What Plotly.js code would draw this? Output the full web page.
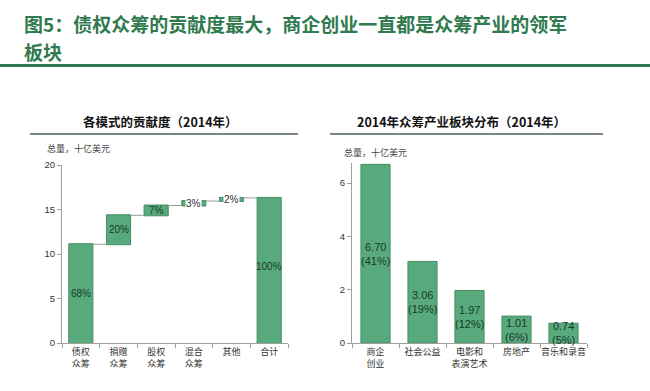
<!DOCTYPE html>
<html><head><meta charset="utf-8">
<script src="https://cdn.plot.ly/plotly-3.0.1.min.js"></script>
<style>html,body{margin:0;padding:0;background:#fff}#c{width:650px;height:391px}</style>
</head><body><div id="c"></div>
<script>
// Left chart: contribution by model (2014), billions USD
const modeCats = ['债权<br>众筹','捐赠<br>众筹','股权<br>众筹','混合<br>众筹','其他','合计'];
const modeValues = [11.1, 3.25, 1.1, 0.5, 0.35];
const modeLabels = ['68%','20%','7%','3%','2%','100%'];
// Right chart: sector distribution (2014), billions USD
const sectorCats = ['商企<br>创业','社会公益','电影和<br>表演艺术','房地产','音乐和录音'];
const sectorValues = [6.70, 3.06, 1.97, 1.01, 0.74];
const sectorShares = ['41%','19%','12%','6%','5%'];

const green = '#58aa7d', greenLine = '#438e63';
const cjk = '"Noto Sans CJK SC", sans-serif';
const lat = '"Liberation Sans", Arial, sans-serif';

const total = modeValues.reduce((a,b)=>a+b,0);
const wfY = modeValues.concat([total]);
const measures = modeValues.map(()=> 'relative').concat(['total']);

const traces = [
  {type:'waterfall', x: modeCats, y: wfY, measure: measures, xaxis:'x', yaxis:'y',
   increasing:{marker:{color:green, line:{color:greenLine, width:1}}},
   totals:{marker:{color:green, line:{color:greenLine, width:1}}},
   decreasing:{marker:{color:green}},
   connector:{mode:'between', line:{color:'#9a9a9a', width:1}},
   text: modeCats.map(()=> ''), textposition:'none', hoverinfo:'none', showlegend:false},
  {type:'bar', x: sectorCats, y: sectorValues, xaxis:'x2', yaxis:'y2',
   marker:{color:green, line:{color:greenLine, width:1}}, width:0.62,
   hoverinfo:'none', showlegend:false}
];

const annotations = [];
let cum = 0;
modeValues.forEach((v,i)=>{
  const mid = cum + v/2; cum += v;
  const small = v < 0.8;
  annotations.push({xref:'x', yref:'y', x: modeCats[i], y: mid, text: modeLabels[i], showarrow:false,
    font:{family:lat, size:10, color: small ? '#333' : '#173a27'},
    bgcolor: small ? '#ffffff' : 'rgba(0,0,0,0)', borderpad: 0});
});
annotations.push({xref:'x', yref:'y', x: modeCats[5], y: total*0.5+0.5, text: modeLabels[5], showarrow:false,
  font:{family:lat, size:10, color:'#173a27'}});
sectorValues.forEach((v,i)=>{
  annotations.push({xref:'x2', yref:'y2', x: sectorCats[i], y: v/2, text: v.toFixed(2)+'<br>('+sectorShares[i]+')',
    showarrow:false, font:{family:lat, size:11, color:'#173a27'}});
});
annotations.push(
  {xref:'paper', yref:'paper', x:22/650, y:1-23.5/391, xanchor:'left', yanchor:'middle', showarrow:false,
   text:'<b>图5：债权众筹的贡献度最大，商企创业一直都是众筹产业的领军</b>',
   font:{family:cjk, size:19, color:'#2f7a4e'}},
  {xref:'paper', yref:'paper', x:22/650, y:1-51.5/391, xanchor:'left', yanchor:'middle', showarrow:false,
   text:'<b>板块</b>', font:{family:cjk, size:19, color:'#2f7a4e'}},
  {xref:'paper', yref:'paper', x:160/650, y:1-121/391, xanchor:'center', yanchor:'middle', showarrow:false,
   text:'<b>各模式的贡献度（2014年）</b>', font:{family:cjk, size:12.5, color:'#111'}},
  {xref:'paper', yref:'paper', x:461/650, y:1-121/391, xanchor:'center', yanchor:'middle', showarrow:false,
   text:'<b>2014年众筹产业板块分布（2014年）</b>', font:{family:cjk, size:12.5, color:'#111'}},
  {xref:'paper', yref:'paper', x:45/650, y:1-148/391, xanchor:'left', yanchor:'middle', showarrow:false,
   text:'总量，十亿美元', font:{family:cjk, size:9, color:'#444'}},
  {xref:'paper', yref:'paper', x:342/650, y:1-153/391, xanchor:'left', yanchor:'middle', showarrow:false,
   text:'总量，十亿美元', font:{family:cjk, size:9, color:'#444'}}
);

const shapes = [
  {type:'line', xref:'paper', yref:'paper', x0:0, x1:1, y0:1-65.5/391, y1:1-65.5/391, line:{color:'#2f7a4e', width:3}},
  {type:'line', xref:'paper', yref:'paper', x0:30/650, x1:298/650, y0:1-134/391, y1:1-134/391, line:{color:'#4d5f5a', width:1.5}},
  {type:'line', xref:'paper', yref:'paper', x0:330/650, x1:603/650, y0:1-134/391, y1:1-134/391, line:{color:'#4d5f5a', width:1.5}}
];

const axCommon = {showline:true, linecolor:'#a0a0a0', linewidth:1, ticks:'outside', ticklen:4, tickcolor:'#a0a0a0',
  showgrid:false, zeroline:false, fixedrange:true};
const layout = {
  width:650, height:391, margin:{l:0,r:0,t:0,b:0}, paper_bgcolor:'#fff', plot_bgcolor:'#fff',
  showlegend:false, waterfallgap:0.36,
  xaxis: Object.assign({}, axCommon, {domain:[62/650, 288/650], anchor:'y', type:'category', tickson:'boundaries',
    tickangle:0, tickfont:{family:cjk, size:9, color:'#333'}}),
  yaxis: Object.assign({}, axCommon, {domain:[1-343/391, 1-165/391], anchor:'x', range:[0,20], dtick:5,
    tickfont:{family:lat, size:9.5, color:'#333'}}),
  xaxis2: Object.assign({}, axCommon, {domain:[352/650, 587/650], anchor:'y2', type:'category', tickson:'boundaries',
    tickangle:0, tickfont:{family:cjk, size:9, color:'#333'}}),
  yaxis2: Object.assign({}, axCommon, {domain:[1-343/391, 1-163/391], anchor:'x2', range:[0,6.75], tickvals:[0,2,4,6],
    tickfont:{family:lat, size:9.5, color:'#333'}}),
  annotations: annotations, shapes: shapes
};
Plotly.newPlot('c', traces, layout, {staticPlot:true, displayModeBar:false});
</script></body></html>
